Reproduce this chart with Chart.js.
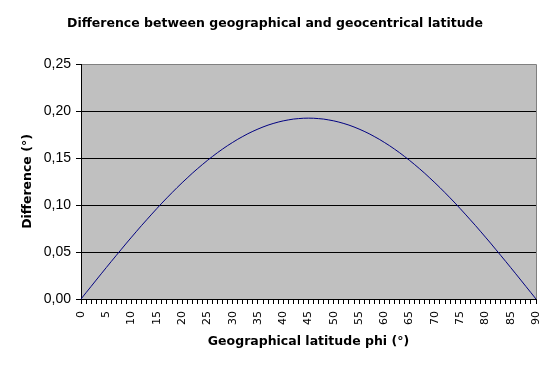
<!DOCTYPE html>
<html>
<head>
<meta charset="utf-8">
<script src="https://cdn.jsdelivr.net/npm/chart.js@4/dist/chart.umd.min.js"></script>
<style>
html,body{margin:0;padding:0;background:#fff;}
#wrap{width:550px;height:368px;}
</style>
</head>
<body>
<div id="wrap"><canvas id="c" width="550" height="368"></canvas></div>
<script>
const chartTitle = "Difference between geographical and geocentrical latitude";
const xTitle = "Geographical latitude phi (°)";
const yTitle = "Difference (°)";
const latitudes = [0,1,2,3,4,5,6,7,8,9,10,11,12,13,14,15,16,17,18,19,20,21,22,23,24,25,26,27,28,29,30,31,32,33,34,35,36,37,38,39,40,41,42,43,44,45,46,47,48,49,50,51,52,53,54,55,56,57,58,59,60,61,62,63,64,65,66,67,68,69,70,71,72,73,74,75,76,77,78,79,80,81,82,83,84,85,86,87,88,89,90];
const differences = [0,0.0067,0.0134,0.0201,0.0268,0.0334,0.0400,0.0465,0.0530,0.0595,0.0658,0.0721,0.0783,0.0843,0.0903,0.0962,0.1020,0.1076,0.1131,0.1185,0.1237,0.1287,0.1337,0.1384,0.1430,0.1474,0.1516,0.1557,0.1595,0.1632,0.1666,0.1699,0.1729,0.1758,0.1784,0.1808,0.1830,0.1850,0.1867,0.1882,0.1895,0.1905,0.1914,0.1919,0.1923,0.1924,0.1923,0.1919,0.1914,0.1905,0.1895,0.1882,0.1867,0.1850,0.1830,0.1808,0.1784,0.1758,0.1729,0.1699,0.1666,0.1632,0.1595,0.1557,0.1516,0.1474,0.1430,0.1384,0.1337,0.1287,0.1237,0.1185,0.1131,0.1076,0.1020,0.0962,0.0903,0.0843,0.0783,0.0721,0.0658,0.0595,0.0530,0.0465,0.0400,0.0334,0.0268,0.0201,0.0134,0.0067,0];
const xLabelStep = 5;
const yMin = 0, yMax = 0.25, yStep = 0.05;

const FONT = 'Arial, "Liberation Sans", sans-serif';
const WIDE = '"DejaVu Sans", Verdana, sans-serif';

const plotBg = {
  id: 'plotBg',
  beforeDraw(chart) {
    const a = chart.chartArea, ctx = chart.ctx;
    ctx.save();
    ctx.fillStyle = '#c0c0c0';
    ctx.fillRect(a.left, a.top, a.right - a.left, a.bottom - a.top);
    ctx.restore();
  },
  afterDraw(chart) {
    const a = chart.chartArea, ctx = chart.ctx;
    ctx.save();
    ctx.strokeStyle = '#808080';
    ctx.lineWidth = 1;
    ctx.beginPath();
    ctx.moveTo(Math.round(a.left) + 1, Math.round(a.top) + 0.5);
    ctx.lineTo(Math.round(a.right) + 0.5, Math.round(a.top) + 0.5);
    ctx.lineTo(Math.round(a.right) + 0.5, a.bottom);
    ctx.stroke();
    ctx.restore();
  }
};

new Chart(document.getElementById('c'), {
  type: 'line',
  data: {
    labels: latitudes.map(String),
    datasets: [{
      data: differences,
      borderColor: '#000080',
      borderWidth: 1,
      pointRadius: 0,
      fill: false,
      tension: 0
    }]
  },
  options: {
    responsive: false,
    animation: false,
    devicePixelRatio: 1,
    layout: { padding: 0 },
    plugins: {
      legend: { display: false },
      tooltip: { enabled: false },
      title: {
        display: true,
        text: chartTitle,
        color: '#000',
        font: { family: WIDE, size: 12.5, weight: 'bold', lineHeight: 1.2 },
        padding: { top: 16, bottom: 33 }
      }
    },
    scales: {
      x: {
        type: 'category',
        offset: false,
        afterFit(s) { s.height = 69; s.paddingRight = 14; s.paddingLeft = 0; },
        grid: { drawOnChartArea: false, drawTicks: true, tickLength: 5, color: '#000', tickColor: '#000' },
        border: { display: true, color: '#000', width: 1 },
        ticks: {
          autoSkip: false,
          minRotation: 90,
          maxRotation: 90,
          padding: 7,
          color: '#000',
          font: { family: WIDE, size: 11 },
          callback(value, index) { return index % xLabelStep === 0 ? this.getLabelForValue(value) : ''; }
        },
        title: {
          display: true,
          text: xTitle,
          color: '#000',
          font: { family: WIDE, size: 12.5, weight: 'bold', lineHeight: 1.2 },
          padding: { top: 0, bottom: 19 }
        }
      },
      y: {
        min: yMin,
        max: yMax,
        afterFit(s) { s.width = 81; },
        grid: { drawOnChartArea: true, drawTicks: true, tickLength: 5, color: '#000', tickColor: '#000' },
        border: { display: true, color: '#000', width: 1 },
        ticks: {
          stepSize: yStep,
          padding: 5,
          color: '#000',
          font: { family: FONT, size: 14 },
          callback(v) { return v.toFixed(2).replace('.', ','); }
        },
        title: {
          display: true,
          text: yTitle,
          color: '#000',
          font: { family: WIDE, size: 12.5, weight: 'bold', lineHeight: 1.2 },
          padding: { top: 20, bottom: 0 }
        }
      }
    }
  },
  plugins: [plotBg]
});
</script>
</body>
</html>
